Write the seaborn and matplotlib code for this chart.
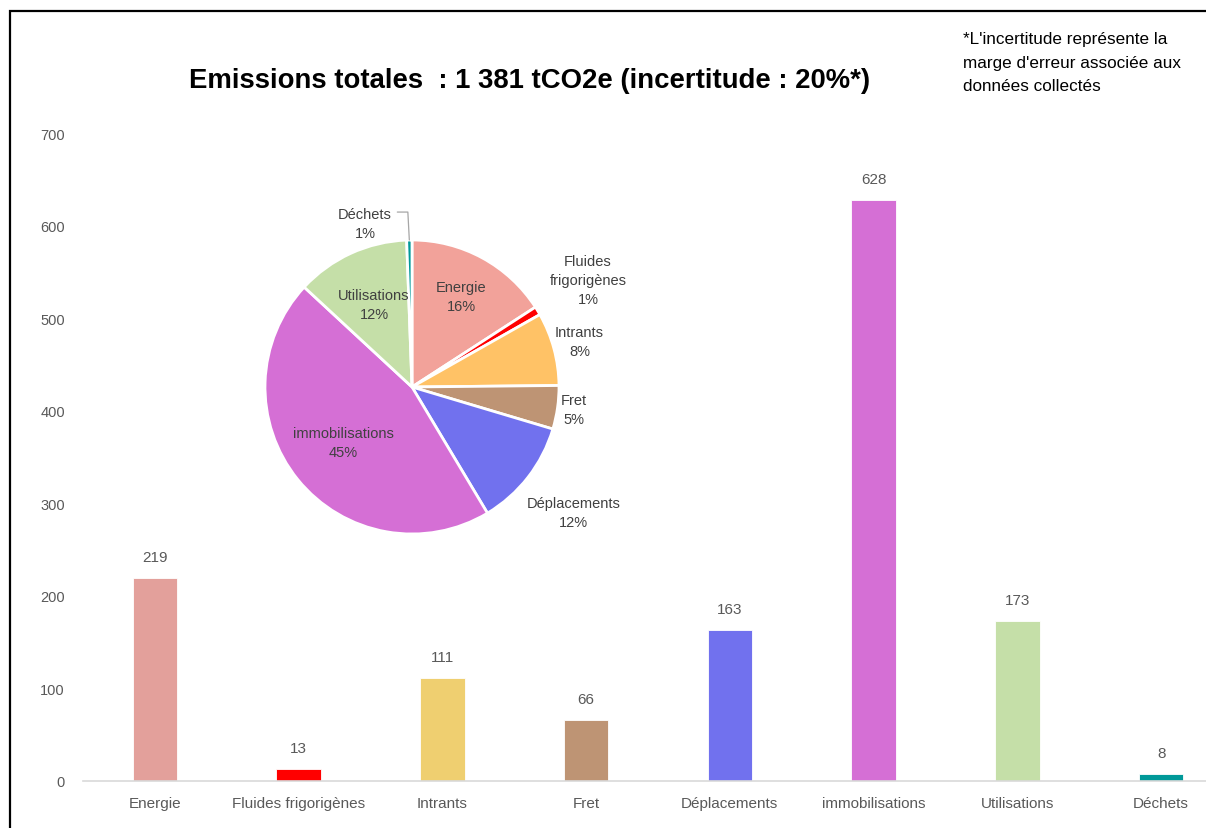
import numpy as np
import pandas as pd
import matplotlib
matplotlib.use("Agg")
import matplotlib.pyplot as plt
from matplotlib.patches import Rectangle
import seaborn as sns

categories = ["Energie", "Fluides frigorigènes", "Intrants", "Fret", "Déplacements",
              "immobilisations", "Utilisations", "Déchets"]
values = [219, 13, 111, 66, 163, 628, 173, 8]
bar_colors = ["#E3A09B", "#FF0000", "#EFCF70", "#BE9474", "#7171EE", "#D56FD5", "#C5DFA8", "#009999"]

pie_labels = ["Energie", "Fluides\nfrigorigènes", "Intrants", "Fret", "Déplacements",
              "immobilisations", "Utilisations", "Déchets"]
pie_pcts = ["16%", "1%", "8%", "5%", "12%", "45%", "12%", "1%"]
pie_colors = ["#F2A29A", "#FF0000", "#FFC266", "#BE9474", "#7171EE", "#D56FD5", "#C5DFA8", "#009999"]
yticks = [0, 100, 200, 300, 400, 500, 600, 700]

title = "Emissions totales  : 1 381 tCO2e (incertitude : 20%*)"
note = "*L'incertitude représente la\nmarge d'erreur associée aux\ndonnées collectés"

sns.set_theme(style="white")
plt.rcParams["font.family"] = ["Liberation Sans", "DejaVu Sans"]

W, H = 1206, 829
fig = plt.figure(figsize=(W / 100, H / 100), dpi=100)
fig.patch.set_facecolor("white")

# main bar axes (extends beyond right edge like the cropped reference)
ax = fig.add_axes([83 / W, 47 / H, 1150 / W, 648 / H])
df = pd.DataFrame({"cat": categories, "val": values})
sns.barplot(data=df, x="cat", y="val", hue="cat", palette=bar_colors, legend=False,
            width=0.31, ax=ax, saturation=1, edgecolor="white", linewidth=0.6)
ax.set_xlim(-0.5, len(categories) - 0.5)
ax.set_ylim(0, 700)
ax.set_yticks(yticks)
ax.set_xlabel("")
ax.set_ylabel("")
for s in ["top", "right", "left"]:
    ax.spines[s].set_visible(False)
ax.spines["bottom"].set_color("#D9D9D9")
ax.spines["bottom"].set_linewidth(1.2)
ax.tick_params(axis="both", length=0, colors="#595959")
ax.tick_params(axis="y", labelsize=10.5, pad=13)
ax.tick_params(axis="x", labelsize=11, pad=11)
ax.grid(False)
for cont in ax.containers:
    ax.bar_label(cont, fmt="%d", padding=10, fontsize=11, color="#595959")

# Pie inset
cx, cy, r = 412, H - 388, 147
pax = fig.add_axes([(cx - r) / W, (cy - r) / H, 2 * r / W, 2 * r / H])
wedges, _ = pax.pie(values, colors=pie_colors, startangle=90, counterclock=False,
                    wedgeprops=dict(edgecolor="white", linewidth=2), radius=1)
pax.set_xlim(-1, 1)
pax.set_ylim(-1, 1)
pax.set_aspect("equal")
pax.axis("off")
label_r = [0.70, 1.40, 1.18, 1.11, 1.39, 0.60, 0.62, 1.16]
label_da = [0, 0, 0, 0, 0, 0, 0, 15]
for w, lab, pct, lr, da in zip(wedges, pie_labels, pie_pcts, label_r, label_da):
    ang = np.deg2rad((w.theta1 + w.theta2) / 2 + da)
    x, y = lr * np.cos(ang), lr * np.sin(ang)
    pax.text(x, y, f"{lab}\n{pct}", ha="center", va="center", fontsize=10.5,
             color="#404040", linespacing=1.45, clip_on=False)
# leader line for Déchets
wd = wedges[-1]
am = np.deg2rad((wd.theta1 + wd.theta2) / 2)
x0, y0 = 1.0 * np.cos(am), 1.0 * np.sin(am)
pax.plot([x0, x0 - 0.01, -0.10], [y0, 1.19, 1.19], color="#A6A6A6", lw=0.9, clip_on=False)

fig.text(530 / W, 1 - 81 / H, title, ha="center", va="center", fontsize=19.8,
         fontweight="bold", color="black")
fig.text(963 / W, 1 - 32 / H, note, ha="left", va="top", fontsize=12.3,
         color="black", linespacing=1.72)

fig.add_artist(Rectangle((10 / W, -0.1), 1.2, 1 - 12 / H + 0.1, transform=fig.transFigure,
                         fill=False, edgecolor="black", linewidth=1.6))

fig.savefig("out.png", dpi=100)
